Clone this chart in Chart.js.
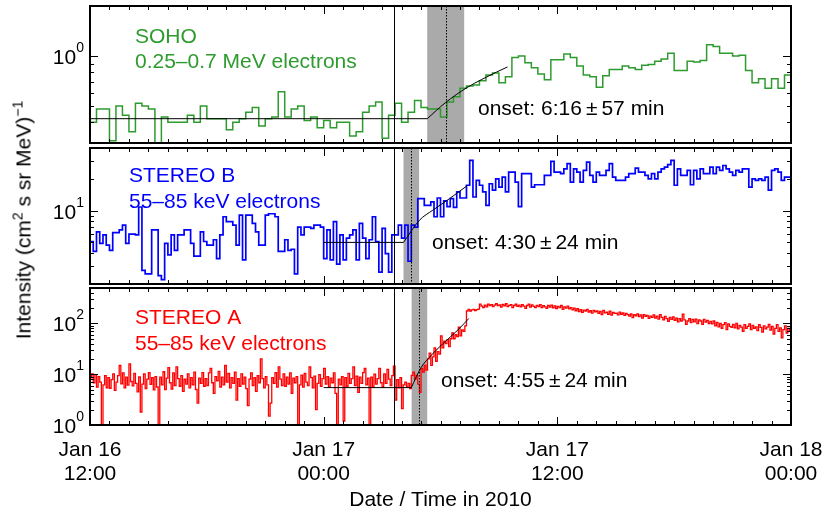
<!DOCTYPE html>
<html>
<head>
<meta charset="utf-8">
<title>Electron onsets, Jan 2010</title>
<script src="https://cdn.jsdelivr.net/npm/chart.js@4.4.1/dist/chart.umd.min.js"></script>
<style>
body{margin:0;background:#fff;}
#wrap{position:relative;width:824px;height:516px;overflow:hidden;}
#wrap canvas{position:absolute;left:0;top:0;}
#ytitle{position:absolute;left:23px;top:220px;transform:translate(-50%,-50%) rotate(-90deg);
  font:21px "Liberation Sans",Arial,sans-serif;white-space:nowrap;line-height:1;color:#000;}
#ytitle sup{font-size:14px;line-height:0;vertical-align:baseline;position:relative;top:-8px;}
</style>
</head>
<body>
<div id="wrap">
  <canvas id="p1" width="824" height="516"></canvas>
  <canvas id="p2" width="824" height="516"></canvas>
  <canvas id="p3" width="824" height="516"></canvas>
  <div id="ytitle">Intensity (cm<sup>2</sup> s sr MeV)<sup>−1</sup></div>
</div>
<script>
const FONT = '"Liberation Sans", Arial, sans-serif';

// time axis in hours after Jan 16 12:00
const xTickHours = [0, 12, 24, 36];
const xTickLabels = [['Jan 16', '12:00'], ['Jan 17', '00:00'], ['Jan 17', '12:00'], ['Jan 18', '00:00']];
const xTitle = 'Date / Time in 2010';
const eventHour = 15.63;   // solid line ~03:38

// SOHO 0.25-0.7 MeV electrons, 20 min bins
const sohoVals = [
  0.40,0.48,0.48,0.31,0.50,0.44,0.35,0.52,0.50,0.48,
  0.29,0.43,0.40,0.40,0.40,0.44,0.40,0.50,0.42,0.42,
  0.42,0.36,0.40,0.42,0.46,0.49,0.38,0.42,0.43,0.61,
  0.43,0.48,0.50,0.41,0.43,0.37,0.41,0.37,0.40,0.40,
  0.33,0.35,0.46,0.50,0.53,0.32,0.44,0.52,0.40,0.46,
  0.54,0.49,0.48,0.48,0.43,0.53,0.57,0.64,0.66,0.67,
  0.71,0.77,0.79,0.69,0.75,0.98,1.00,0.91,0.85,0.78,
  0.72,0.95,0.95,1.03,0.98,0.87,0.77,0.75,0.65,0.76,
  0.83,0.83,0.87,0.85,0.83,0.88,0.89,0.93,0.96,1.04,
  0.82,0.82,0.93,0.92,0.94,1.17,1.14,1.04,1.04,1.00,
  1.01,0.82,0.69,0.73,0.64,0.73,0.64,0.77
];
const sohoFitHours = [0, 17.32, 18.25, 19.36, 20.87, 21.44];
const sohoFitVals  = [0.42, 0.42, 0.524, 0.646, 0.80, 0.86];

// STEREO B 55-85 keV electrons, 10 min bins
const stbVals = [
  5.1,4.1,6.3,4.9,5.9,4.7,4.2,6.2,6.2,6.6,
  7.3,4.9,6.0,6.0,5.9,10.9,2.7,2.5,2.5,6.6,
  6.6,2.4,2.2,4.9,3.8,5.9,4.2,5.9,5.9,6.6,
  6.6,4.9,3.7,3.7,6.3,5.1,4.7,4.7,5.3,3.5,
  5.9,8.8,7.9,7.9,7.3,4.7,9.1,3.4,9.1,9.1,
  7.6,6.3,4.7,4.7,9.1,9.4,9.4,8.8,4.1,4.1,
  5.3,4.2,4.3,2.5,7.0,5.9,7.0,7.0,6.8,7.3,
  7.3,7.0,3.5,6.6,3.4,7.9,3.1,5.9,3.4,5.5,
  5.9,6.6,3.4,7.6,5.5,3.5,5.3,8.8,5.1,2.6,
  6.8,3.9,2.6,5.9,5.9,7.3,5.5,7.3,3.3,7.3,
  7.0,13.1,13.1,11.3,11.3,12.2,8.8,13.3,8.8,12.5,
  11.0,13.1,10.8,15.2,13.3,13.3,17.6,30.4,13.6,19.6,
  17.6,15.2,11.3,18.2,15.8,20.3,16.9,21.1,15.2,23.5,
  23.5,18.9,11.0,22.7,22.7,22.7,16.9,17.8,17.8,17.8,
  21.9,21.9,29.8,23.5,23.5,22.7,25.3,28.3,18.9,25.3,
  23.5,18.9,24.4,29.3,21.9,18.9,23.5,21.9,21.9,24.4,
  28.3,21.1,19.6,19.6,19.6,21.1,22.7,22.7,25.7,23.5,
  23.5,21.9,20.3,22.7,20.3,23.5,25.3,26.2,27.7,30.4,
  17.6,25.3,21.9,21.9,24.4,17.8,24.4,20.3,25.3,22.7,
  22.7,26.2,22.7,26.2,24.4,27.2,25.3,23.5,21.9,24.4,
  23.5,25.3,25.3,16.9,20.3,19.6,20.3,19.6,21.1,15.8,
  24.4,25.3,23.5,19.6,21.1,21.1
];
const stbFitHours = [12.0, 16.1, 16.92, 17.6, 18.46, 19.4];
const stbFitVals  = [5.0, 5.0, 8.15, 10.15, 13.1, 17.6];

// STEREO A 55-85 keV electrons, 5 min bins (one row per hour)
const staVals = [
  8.5,10.2,6.8,9.8,5.6,9.0,7.0,1.0,6.2,9.4,5.4,8.6,
  5.3,7.8,10.2,4.8,7.0,9.4,15.0,6.5,10.6,5.4,8.8,6.1,
  16.0,7.2,5.9,10.4,6.6,4.5,8.9,1.8,6.4,10.2,5.2,8.0,
  10.8,6.3,8.6,4.9,9.0,5.6,1.0,8.8,6.2,11.2,5.0,8.4,
  13.5,6.8,5.1,10.6,6.0,14.0,8.2,5.8,9.4,4.6,8.0,6.4,
  10.2,5.4,8.6,6.2,11.0,5.0,2.7,8.4,6.6,10.8,5.8,8.2,
  6.0,10.6,13.0,6.8,4.2,9.0,7.4,11.4,5.6,8.8,6.2,15.0,
  7.0,10.4,5.4,8.6,6.6,11.0,3.1,8.2,5.8,10.2,6.4,8.8,
  5.2,2.4,8.0,10.6,6.0,8.6,4.6,9.4,6.8,20.0,8.2,5.4,
  9.0,6.2,1.5,2.7,8.6,6.6,10.8,5.6,14.0,8.0,6.0,10.2,
  5.8,8.8,6.4,10.6,4.2,8.4,6.8,9.0,1.0,6.2,9.6,5.6,
  10.4,7.0,6.0,14.0,8.6,5.4,9.2,2.0,6.6,9.8,5.8,8.2,
  13.0,6.4,9.0,5.6,8.4,6.8,10.6,4.2,1.0,8.0,6.2,9.0,
  1.2,8.6,5.8,10.4,6.6,8.2,14.0,6.0,9.2,4.4,8.8,6.6,
  10.8,13.0,6.2,8.4,1.0,8.8,5.6,10.0,6.4,8.2,13.0,6.8,
  5.6,10.2,6.6,12.5,8.0,6.0,9.4,14.5,3.1,7.8,5.4,8.6,
  2.1,6.2,7.0,5.6,6.6,5.2,9.5,11.0,8.0,9.5,6.4,4.4,
  13.0,11.0,15.0,12.0,20.0,26.0,15.0,22.0,33.0,18.0,28.0,25.0,
  57,33,45,40,48,35,50,65,50,60,55,85,
  57,75,70,90,176,190,176,185,190,180,188,192,
  240,220,205,230,212,240,226,236,215,230,245,225,
  232,210,238,222,245,215,228,236,205,226,240,218,
  230,212,236,220,198,226,240,210,232,218,205,228,
  215,236,206,224,212,198,228,210,230,204,222,196,
  218,206,226,190,212,200,220,194,206,186,200,178,
  195,172,188,165,184,176,190,168,178,160,182,170,
  176,158,172,150,180,162,168,152,174,146,165,158,
  160,148,168,152,162,145,158,150,140,155,130,150,
  142,155,136,148,128,150,138,145,126,140,132,148,
  128,140,122,150,132,118,138,125,110,132,120,135,
  115,128,108,125,112,152,118,96,112,125,104,120,
  108,122,100,118,112,96,120,106,115,100,110,98,
  112,90,105,86,100,80,95,104,76,98,88,84,
  96,82,100,78,92,85,70,95,80,88,98,76,
  92,80,86,72,95,84,68,90,78,85,96,74,
  88,62,80,95,70,82,52,76,90,65,80,72
];
const staFitHours = [12.0, 16.5, 17.0, 17.5, 18.0, 18.5, 19.0, 19.45];
const staFitVals  = [5.45, 5.45, 13.5, 23, 36, 54, 82, 125];

function stepPoints(vals, binH) {
  const pts = vals.map((v, i) => ({x: i * binH, y: v}));
  pts.push({x: vals.length * binH, y: vals[vals.length - 1]});
  return pts;
}
function fitPoints(hours, vals) {
  return hours.map((h, i) => ({x: h, y: vals[i]}));
}

function line(ctx, x0, y0, x1, y1) {
  ctx.beginPath(); ctx.moveTo(x0, y0); ctx.lineTo(x1, y1); ctx.stroke();
}

const deco = {
  id: 'deco',
  beforeDatasetsDraw(chart, args, o) {
    const {ctx, chartArea: a, scales: {x}} = chart;
    const b0 = x.getPixelForValue(o.onset - o.err), b1 = x.getPixelForValue(o.onset + o.err);
    ctx.save();
    ctx.fillStyle = '#aaaaaa';
    ctx.fillRect(b0, a.top, b1 - b0, a.bottom - a.top);
    ctx.restore();
  },
  afterDatasetsDraw(chart, args, o) {
    const {ctx, chartArea: a, scales: {x, y}} = chart;
    ctx.save();
    ctx.strokeStyle = '#000';
    ctx.lineWidth = 1;

    let px = Math.round(x.getPixelForValue(eventHour)) + 0.5;
    line(ctx, px, a.top, px, a.bottom);

    px = Math.round(x.getPixelForValue(o.onset)) + 0.5;
    ctx.setLineDash([1.5, 1.5]);
    line(ctx, px, a.top, px, a.bottom);
    ctx.setLineDash([]);

    // inward ticks, hourly
    for (let h = 0; h <= 36; h++) {
      const tx = Math.round(x.getPixelForValue(h)) + 0.5;
      const len = h % 12 === 0 ? 8 : 4;
      line(ctx, tx, a.top, tx, a.top + len);
      line(ctx, tx, a.bottom, tx, a.bottom - len);
    }

    // log ticks + labels
    const e0 = Math.floor(Math.log10(y.min)), e1 = Math.ceil(Math.log10(y.max));
    for (let e = e0; e <= e1; e++) {
      for (let m = 1; m <= 9; m++) {
        const v = m * Math.pow(10, e);
        if (v < y.min * 0.999 || v > y.max * 1.001) continue;
        const ty = Math.round(y.getPixelForValue(v)) + 0.5;
        const len = m === 1 ? 8 : 4;
        line(ctx, a.left, ty, a.left + len, ty);
        line(ctx, a.right, ty, a.right - len, ty);
        if (m === 1) {
          ctx.fillStyle = '#000';
          ctx.textAlign = 'right';
          ctx.textBaseline = 'alphabetic';
          ctx.font = '14px ' + FONT;
          ctx.fillText(String(e), 84, ty - 5);
          const w = ctx.measureText(String(e)).width;
          ctx.font = '21px ' + FONT;
          ctx.fillText('10', 84 - w, ty + 7.5);
        }
      }
    }

    ctx.lineWidth = 2;
    ctx.strokeRect(a.left, a.top, a.right - a.left, a.bottom - a.top);

    // panel texts
    ctx.font = '21px ' + FONT;
    ctx.textAlign = 'left';
    ctx.textBaseline = 'alphabetic';
    ctx.fillStyle = o.color;
    ctx.fillText(o.title[0], o.titleX, o.titleY[0]);
    ctx.fillText(o.title[1], o.titleX, o.titleY[1]);
    ctx.fillStyle = '#000';
    let tx = o.onsetX;
    ['onset: ' + o.onsetText, '±', o.errText + ' min'].forEach(s => {
      ctx.fillText(s, tx, o.onsetY);
      tx += ctx.measureText(s).width + 4;
    });

    if (o.showX) {
      ctx.textAlign = 'center';
      xTickHours.forEach((h, i) => {
        const lx = x.getPixelForValue(h);
        ctx.fillText(xTickLabels[i][0], lx, 456);
        ctx.fillText(xTickLabels[i][1], lx, 480);
      });
      ctx.fillText(xTitle, (a.left + a.right) / 2, 506);
    }
    ctx.restore();
  }
};

const panels = [
  {id: 'p1', top: 6, bottom: 143, min: 0.3, max: 2, color: '#2e9b2e', lw: 1.5,
   vals: sohoVals, bin: 1 / 3, fitH: sohoFitHours, fitV: sohoFitVals,
   onset: 18 + 16 / 60, err: 57 / 60, onsetText: '6:16', errText: '57',
   title: ['SOHO', '0.25–0.7 MeV electrons'], titleX: 135, titleY: [43, 68], onsetX: 478, onsetY: 115},
  {id: 'p2', top: 148, bottom: 284, min: 2, max: 40, color: '#0000ff', lw: 1.7,
   vals: stbVals, bin: 1 / 6, fitH: stbFitHours, fitV: stbFitVals,
   onset: 16.5, err: 0.4, onsetText: '4:30', errText: '24',
   title: ['STEREO B', '55–85 keV electrons'], titleX: 129, titleY: [182, 208], onsetX: 432, onsetY: 249},
  {id: 'p3', top: 288, bottom: 425, min: 1, max: 500, color: '#ff0000', lw: 1.3,
   vals: staVals, bin: 1 / 12, fitH: staFitHours, fitV: staFitVals,
   onset: 16 + 55 / 60, err: 0.4, onsetText: '4:55', errText: '24',
   title: ['STEREO A', '55–85 keV electrons'], titleX: 135, titleY: [324, 350], onsetX: 441, onsetY: 387,
   showX: true}
];

panels.forEach(p => {
  const fit = fitPoints(p.fitH, p.fitV);
  new Chart(document.getElementById(p.id), {
    type: 'line',
    data: {
      datasets: [
        {data: fit.slice(0, 2), borderColor: '#000', borderWidth: 1, pointRadius: 0, tension: 0, clip: 0},
        {data: fit.slice(1), borderColor: '#000', borderWidth: 1, pointRadius: 0,
         cubicInterpolationMode: 'monotone', clip: 0},
        {data: stepPoints(p.vals, p.bin), borderColor: p.color, borderWidth: p.lw, pointRadius: 0,
         stepped: true, clip: 0}
      ]
    },
    options: {
      responsive: false,
      animation: false,
      events: [],
      layout: {padding: {left: 90, right: 824 - 791, top: p.top, bottom: 516 - p.bottom}},
      plugins: {
        legend: {display: false},
        tooltip: {enabled: false},
        deco: p
      },
      scales: {
        x: {type: 'linear', min: 0, max: 36, display: false},
        y: {type: 'logarithmic', min: p.min, max: p.max, display: false}
      }
    },
    plugins: [deco]
  });
});
</script>
</body>
</html>
